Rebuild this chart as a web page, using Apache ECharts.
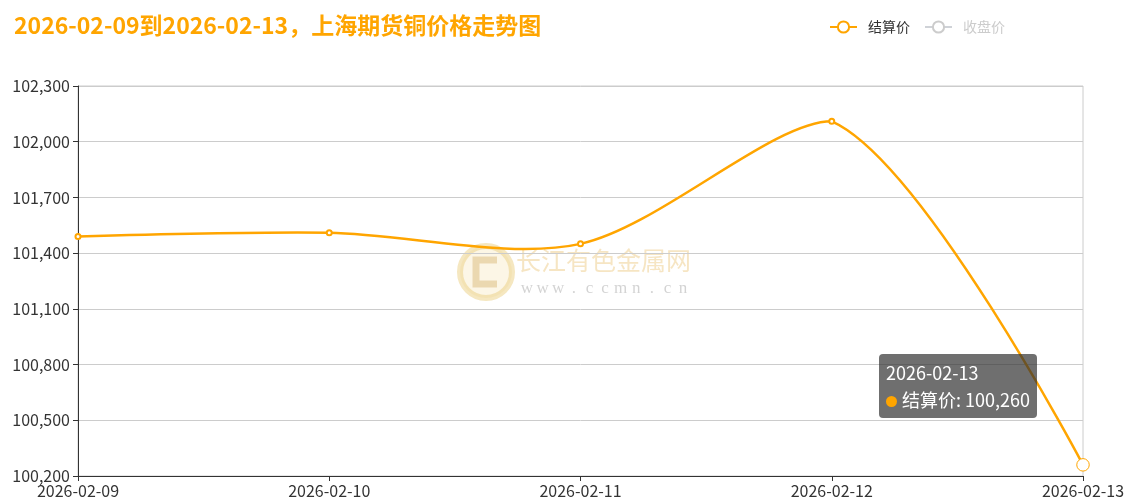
<!DOCTYPE html>
<html>
<head>
<meta charset="utf-8">
<script src="https://cdn.jsdelivr.net/npm/echarts@6/dist/echarts.min.js"></script>
<style>
  html, body { margin: 0; padding: 0; background: #fff; }
  #copperChart { width: 1130px; height: 501px; }
</style>
</head>
<body>
<div id="copperChart"></div>
<script>
// 日期
var dates = ['2026-02-09', '2026-02-10', '2026-02-11', '2026-02-12', '2026-02-13'];
// 结算价
var settlePrice = [101490, 101510, 101450, 102110, 100260];
// 收盘价（图中处于隐藏状态）
var closePrice = [];
// y轴刻度
var yMin = 100200;
var yMax = 102300;
var yStep = 300;

var orange = '#FFA500';
var fontCN = '"Microsoft YaHei", "Noto Sans CJK SC", sans-serif';

// 旧版平滑曲线：控制点按前后点方向取，整体范围约束
function smoothCurve(params, api) {
  if (params.dataIndex !== 0) return null;
  var pts = settlePrice.map(function (v, i) { return api.coord([i, v]); });
  var minX = Infinity, minY = Infinity, maxX = -Infinity, maxY = -Infinity;
  pts.forEach(function (p) {
    minX = Math.min(minX, p[0]); maxX = Math.max(maxX, p[0]);
    minY = Math.min(minY, p[1]); maxY = Math.max(maxY, p[1]);
  });
  var clamp = function (p) {
    return [Math.min(Math.max(p[0], minX), maxX), Math.min(Math.max(p[1], minY), maxY)];
  };
  var s = 0.3;
  var d = 'M' + pts[0][0] + ' ' + pts[0][1];
  var cp0 = pts[0].slice();
  for (var i = 1; i < pts.length; i++) {
    var p = pts[i], prev = pts[i - 1], next = pts[i + 1];
    var cp1, v = [0, 0], ratio = 0.5;
    if (!next) {
      cp1 = p.slice();
    } else {
      v = [next[0] - prev[0], next[1] - prev[1]];
      var l0 = Math.hypot(p[0] - prev[0], p[1] - prev[1]);
      var l1 = Math.hypot(next[0] - p[0], next[1] - p[1]);
      ratio = l1 / (l0 + l1);
      cp1 = [p[0] - v[0] * s * (1 - ratio), p[1] - v[1] * s * (1 - ratio)];
    }
    cp0 = clamp(cp0); cp1 = clamp(cp1);
    d += ' C' + cp0[0] + ' ' + cp0[1] + ' ' + cp1[0] + ' ' + cp1[1] + ' ' + p[0] + ' ' + p[1];
    cp0 = [p[0] + v[0] * s * ratio, p[1] + v[1] * s * ratio];
  }
  return {
    type: 'path',
    shape: { pathData: d },
    style: { fill: 'none', stroke: orange, lineWidth: 2.5 }
  };
}

var wwwText = 'www.ccmn.cn'.split('');
var watermark = [
  { type: 'circle', shape: { cx: 30, cy: 29, r: 26 }, style: { fill: 'rgba(250,238,205,0.5)', stroke: 'rgba(236,208,130,0.5)', lineWidth: 6 } },
  { type: 'polyline', shape: { points: [[41, 17], [20, 17], [20, 41], [41, 41]] }, style: { fill: 'none', stroke: 'rgba(214,180,110,0.45)', lineWidth: 7 } },
  { type: 'text', x: 60, y: 5, style: { text: '长江有色金属网', fill: 'rgba(238,208,145,0.55)', font: '25px ' + fontCN } }
];
wwwText.forEach(function (ch, i) {
  watermark.push({ type: 'text', x: 71 + i * 15.6, y: 37, style: { text: ch, align: 'center', fill: 'rgba(150,150,150,0.42)', font: '17px "Liberation Serif", serif' } });
});

var myChart = echarts.init(document.getElementById('copperChart'));
var option = {
  animation: false,
  textStyle: { fontFamily: fontCN },
  title: {
    text: dates[0] + '到' + dates[dates.length - 1] + '，上海期货铜价格走势图',
    left: 9,
    top: 9,
    textStyle: { color: orange, fontSize: 23, fontWeight: 'bold', fontFamily: fontCN }
  },
  legend: {
    top: 15,
    right: 120,
    itemWidth: 27,
    itemHeight: 14,
    itemGap: 14,
    textStyle: { color: '#333', fontSize: 14, padding: [0, 0, 0, 6] },
    inactiveColor: '#ccc',
    data: [
      { name: '结算价', lineStyle: { color: orange, width: 2, opacity: 1 } },
      { name: '收盘价' }
    ],
    selected: { '收盘价': false }
  },
  tooltip: {
    trigger: 'axis',
    axisPointer: { type: 'none' },
    backgroundColor: 'rgba(50,50,50,0.7)',
    borderWidth: 0,
    padding: [5, 7],
    extraCssText: 'box-shadow:none;border-radius:4px;line-height:27px;',
    textStyle: { color: '#fff', fontSize: 18, fontFamily: fontCN },
    position: function (pt, params, dom, rect, size) {
      return [pt[0] - size.contentSize[0] - 46, pt[1] - size.contentSize[1] - 47];
    },
    formatter: function (params) {
      var p = params.filter(function (it) { return it.seriesType === 'line'; })[0];
      var dot = '<span style="display:inline-block;margin-right:5px;border-radius:10px;width:11px;height:11px;background-color:' + orange + ';"></span>';
      return p.name + '<br/>' + dot + p.seriesName + ': ' + echarts.format.addCommas(p.value);
    }
  },
  grid: {
    left: 78,
    right: 47,
    top: 86,
    bottom: 25,
    show: true,
    borderColor: '#ccc',
    borderWidth: 1
  },
  xAxis: {
    type: 'category',
    boundaryGap: false,
    data: dates,
    axisLine: { lineStyle: { color: '#333' } },
    axisTick: { show: true, alignWithLabel: true, lineStyle: { color: '#333' } },
    axisLabel: { color: '#333', fontSize: 16, interval: 0, margin: 7 }
  },
  yAxis: {
    type: 'value',
    min: yMin,
    max: yMax,
    interval: yStep,
    axisLine: { show: true, lineStyle: { color: '#333' } },
    axisTick: { show: true, lineStyle: { color: '#333' } },
    axisLabel: { color: '#333', fontSize: 16, margin: 8 },
    splitLine: { lineStyle: { color: '#ccc' } }
  },
  graphic: [{
    type: 'group',
    left: 457,
    top: 243,
    silent: true,
    children: watermark
  }],
  series: [{
    name: '结算价',
    type: 'line',
    z: 3,
    symbol: 'emptyCircle',
    symbolSize: 5,
    data: settlePrice,
    itemStyle: { color: orange },
    lineStyle: { color: orange, width: 2.5, opacity: 0 },
    emphasis: { scale: 2.5, itemStyle: { borderWidth: 1 }, lineStyle: { opacity: 0 } }
  }, {
    name: '收盘价',
    type: 'line',
    smooth: true,
    symbol: 'emptyCircle',
    symbolSize: 5,
    data: closePrice,
    itemStyle: { color: '#aaa' },
    lineStyle: { color: '#aaa', width: 2.5 }
  }, {
    name: '结算价曲线',
    type: 'custom',
    z: 2,
    silent: true,
    tooltip: { show: false },
    renderItem: smoothCurve,
    data: settlePrice.map(function (v, i) { return [i, v]; })
  }]
};
myChart.setOption(option);
myChart.dispatchAction({ type: 'showTip', seriesIndex: 0, dataIndex: settlePrice.length - 1 });
window.onresize = myChart.resize;
</script>
</body>
</html>
